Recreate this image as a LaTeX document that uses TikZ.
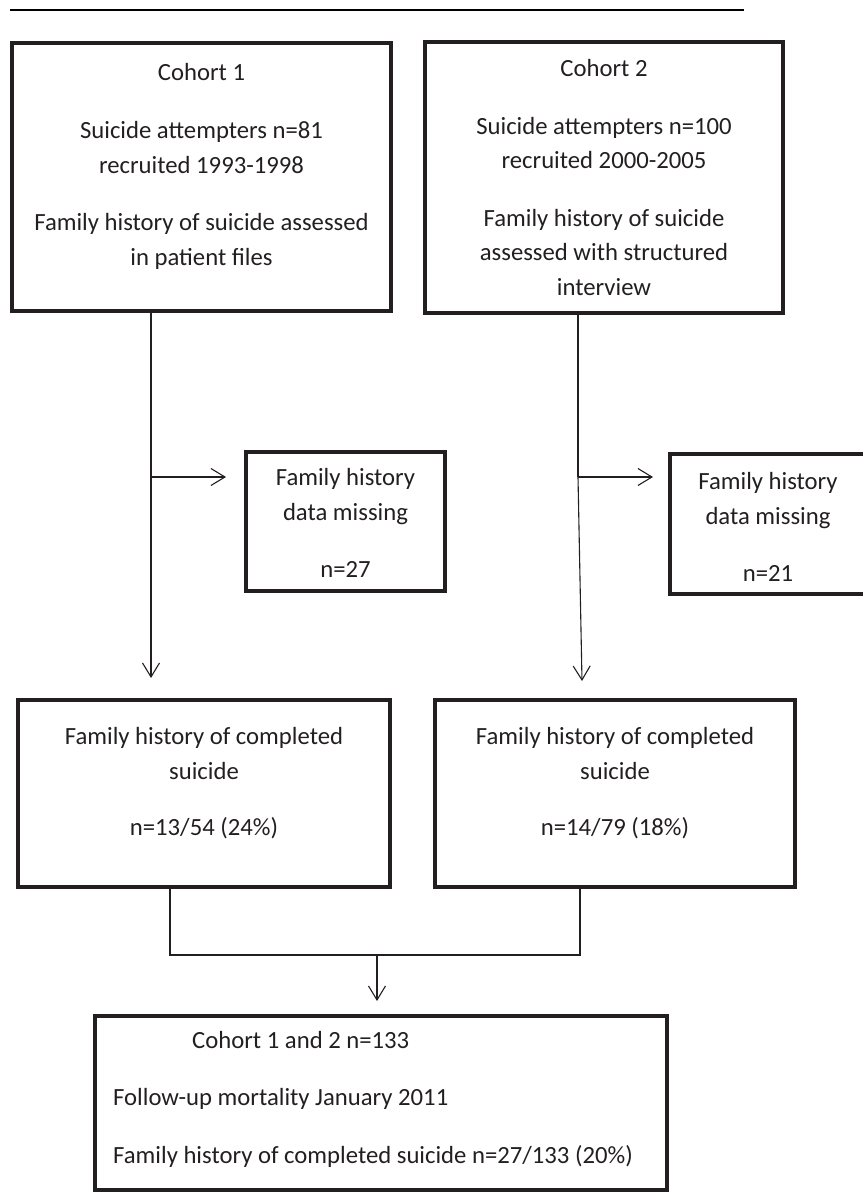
\documentclass[tikz,border=0pt]{standalone}
\usepackage{fontspec}
\setmainfont{Carlito}
\usetikzlibrary{arrows.meta}
\definecolor{ink}{RGB}{35,31,32}

\begin{document}
\begin{tikzpicture}[x=1pt, y=-1pt,
  flowbox/.style={draw=ink, line width=4pt, rectangle, inner sep=0pt},
  txt/.style={text=ink, inner sep=0pt, align=center, anchor=base,
    font=\fontsize{24.7}{34.5}\selectfont},
  conn/.style={draw=ink, line width=1.1pt},
  connarr/.style={conn, -{Straight Barb[length=14pt, width=17pt]}}]
  \useasboundingbox (0,0) rectangle (862,1193);
  % top rule
  \coordinate (ruleA) at (10,10);
  \coordinate (ruleB) at (744,10);
  \draw[line width=2pt] (ruleA) -- (ruleB);
  % cohort boxes (text anchored at its last baseline)
  \node[flowbox, minimum width=379pt, minimum height=268pt] (cohort1) at (201.5,177) {};
  \node[txt] (cohort1txt) at (201.5,265) {Cohort 1\\[23pt]Suicide attempters n=81\\recruited 1993-1998\\[23pt]Family history of suicide assessed\\in patient files};
  \node[flowbox, minimum width=358pt, minimum height=271pt] (cohort2) at (604,177.5) {};
  \node[txt] (cohort2txt) at (604,295) {Cohort 2\\[23pt]Suicide attempters n=100\\recruited 2000-2005\\[23pt]Family history of suicide\\assessed with structured\\interview};
  % missing data boxes
  \node[flowbox, minimum width=199pt, minimum height=139pt] (miss1) at (345.5,521.5) {};
  \node[txt] (miss1txt) at (345.5,577) {Family history\\data missing\\[22.5pt]n=27};
  \node[flowbox, minimum width=196pt, minimum height=140pt] (miss2) at (768,524) {};
  \node[txt] (miss2txt) at (768,581) {Family history\\data missing\\[22.5pt]n=21};
  % completed suicide boxes
  \node[flowbox, minimum width=372pt, minimum height=187pt] (fh1) at (204,793.5) {};
  \node[txt] (fh1txt) at (204,835) {Family history of completed\\suicide\\[21.5pt]n=13/54 (24\%)};
  \node[flowbox, minimum width=360pt, minimum height=187pt] (fh2) at (615,793.5) {};
  \node[txt] (fh2txt) at (615,835) {Family history of completed\\suicide\\[21.5pt]n=14/79 (18\%)};
  % pooled box
  \node[flowbox, minimum width=572pt, minimum height=174pt] (pooled) at (381,1103) {};
  \node[txt, align=left, anchor=base west] (pooledtxt) at (113,1163) {\hspace*{79pt}Cohort 1 and 2 n=133\\[23pt]Follow-up mortality January 2011\\[23pt]Family history of completed suicide n=27/133 (20\%)};
  % connectors cohort 1
  \coordinate (split1) at (151,477);
  \draw[connarr, shorten >=20pt] (cohort1.south -| split1) -- (fh1.north -| split1);
  \draw[connarr, shorten >=18pt] (split1) -- (split1 -| miss1.west);
  % connectors cohort 2
  \coordinate (split2) at (578,477);
  \coordinate (tip2) at (582,681);
  \draw[conn] (cohort2.south -| split2) -- (split2);
  \draw[connarr] (split2) -- (tip2);
  \draw[connarr, shorten >=15pt] (split2) -- (split2 -| miss2.west);
  % merge into pooled box
  \coordinate (merge1) at (170,955);
  \coordinate (merge2) at (580,955);
  \coordinate (join) at (377,955);
  \draw[conn] (fh1.south -| merge1) -- (merge1) -- (merge2) -- (fh2.south -| merge2);
  \draw[connarr, shorten >=13pt] (join) -- (pooled.north -| join);
\end{tikzpicture}
\end{document}
